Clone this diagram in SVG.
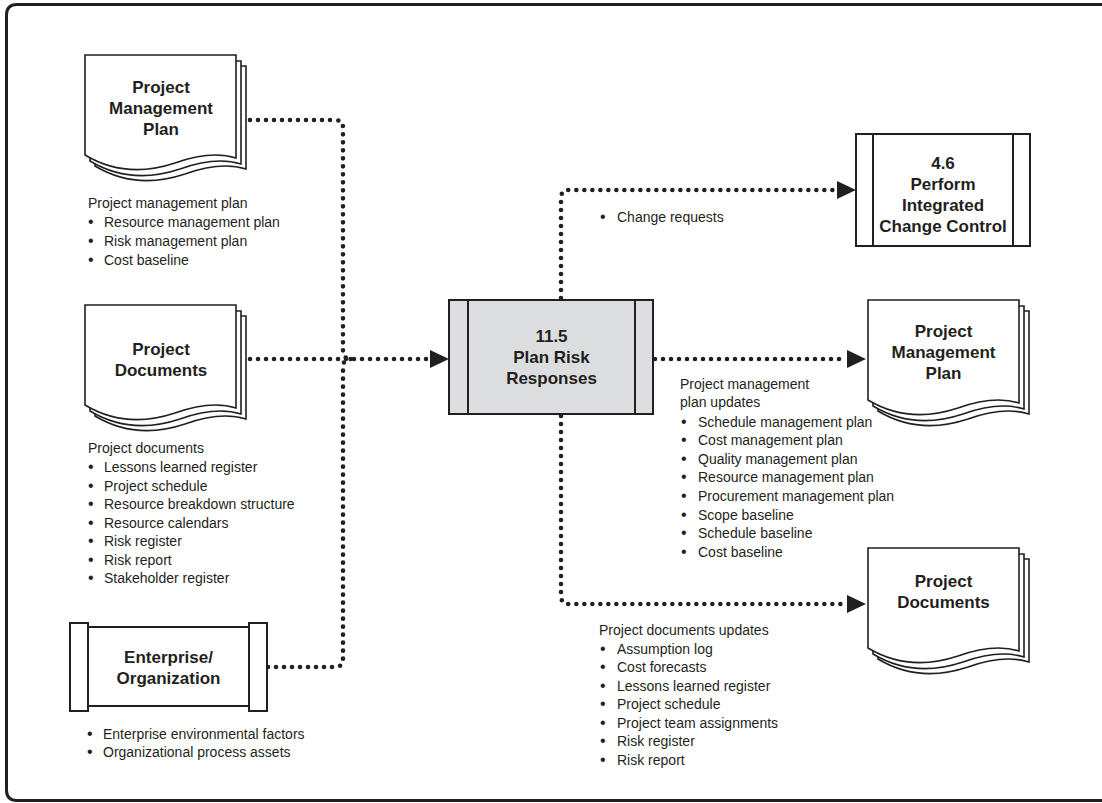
<svg xmlns="http://www.w3.org/2000/svg" width="1102" height="803" viewBox="0 0 1102 803">
<defs>
<style>
.frame{fill:none;stroke:#231f20;stroke-width:3}
.box{fill:#fff;stroke:#231f20;stroke-width:2}
.proc{fill:#dcdddf;stroke:#231f20;stroke-width:2}
.ln{stroke:#231f20;stroke-width:2}
.page{fill:#fff;stroke:#231f20;stroke-width:1.6}
.dot{fill:none;stroke:#231f20;stroke-width:4.6;stroke-linecap:round;stroke-dasharray:0 8}
.t{font-family:"Liberation Sans",Arial,sans-serif;font-size:14px;fill:#231f20}
.b{font-size:16px}
.h{font-family:"Liberation Sans",Arial,sans-serif;font-size:17px;font-weight:bold;fill:#231f20;text-anchor:middle}
</style>
<path id="pg" d="M0,0 H151 V103 C135,98 115,99 90,108 C60,118 30,118 0,100 Z"/>
<marker id="arr" markerUnits="userSpaceOnUse" markerWidth="20" markerHeight="20" refX="0" refY="9" orient="auto" viewBox="0 0 20 20">
<path d="M0,0 L19,9 L0,18 Z" fill="#231f20"/>
</marker>
</defs>
<rect width="1102" height="803" fill="#fff"/>
<path class="frame" d="M1102,4.5 H17 Q6.5,4.5 6.5,15 V790 Q6.5,800.5 17,800.5 H1102"/>

<g id="connectors">
<path class="dot" d="M250,120 H335 Q343,120 343,128 V351 Q343,359 351,359"/>
<path class="dot" d="M268,667 H335 Q343,667 343,659 V367 Q343,359 351,359"/>
<path class="dot" d="M250,359 H430" marker-end="url(#arr)"/>
<path class="dot" d="M655,359 H847" marker-end="url(#arr)"/>
<path class="dot" d="M561,298 V198 Q561,190 569,190 H837" marker-end="url(#arr)"/>
<path class="dot" d="M561,416 V596 Q561,604 569,604 H847" marker-end="url(#arr)"/>
</g>

<g id="pmp-in">
<use href="#pg" class="page" transform="translate(95,66)"/>
<use href="#pg" class="page" transform="translate(90,61)"/>
<use href="#pg" class="page" transform="translate(85,55)"/>
<text class="h" x="161" y="93">Project</text>
<text class="h" x="161" y="114">Management</text>
<text class="h" x="161" y="135">Plan</text>
<text class="t" x="88" y="208">Project management plan</text>
<text class="t"><tspan class="b" x="88" y="227">•</tspan><tspan x="104">Resource management plan</tspan></text>
<text class="t"><tspan class="b" x="88" y="246">•</tspan><tspan x="104">Risk management plan</tspan></text>
<text class="t"><tspan class="b" x="88" y="265">•</tspan><tspan x="104">Cost baseline</tspan></text>
</g>

<g id="docs-in">
<use href="#pg" class="page" transform="translate(95,316)"/>
<use href="#pg" class="page" transform="translate(90,311)"/>
<use href="#pg" class="page" transform="translate(85,305)"/>
<text class="h" x="161" y="355">Project</text>
<text class="h" x="161" y="376">Documents</text>
<text class="t" x="88" y="453">Project documents</text>
<text class="t"><tspan class="b" x="88" y="472">•</tspan><tspan x="104">Lessons learned register</tspan></text>
<text class="t"><tspan class="b" x="88" y="491">•</tspan><tspan x="104">Project schedule</tspan></text>
<text class="t"><tspan class="b" x="88" y="509">•</tspan><tspan x="104">Resource breakdown structure</tspan></text>
<text class="t"><tspan class="b" x="88" y="528">•</tspan><tspan x="104">Resource calendars</tspan></text>
<text class="t"><tspan class="b" x="88" y="546">•</tspan><tspan x="104">Risk register</tspan></text>
<text class="t"><tspan class="b" x="88" y="565">•</tspan><tspan x="104">Risk report</tspan></text>
<text class="t"><tspan class="b" x="88" y="583">•</tspan><tspan x="104">Stakeholder register</tspan></text>
</g>

<g id="enterprise">
<rect class="box" x="70" y="623" width="18" height="88"/>
<rect class="box" x="249" y="623" width="18" height="88"/>
<rect class="box" x="88" y="627" width="161" height="79"/>
<text class="h" x="168.5" y="663">Enterprise/</text>
<text class="h" x="168.5" y="684">Organization</text>
<text class="t"><tspan class="b" x="87" y="739">•</tspan><tspan x="103">Enterprise environmental factors</tspan></text>
<text class="t"><tspan class="b" x="87" y="757">•</tspan><tspan x="103">Organizational process assets</tspan></text>
</g>

<g id="process">
<rect class="proc" x="449" y="300" width="204" height="114"/>
<line class="ln" x1="468" y1="300" x2="468" y2="414"/>
<line class="ln" x1="635" y1="300" x2="635" y2="414"/>
<text class="h" x="551.5" y="342">11.5</text>
<text class="h" x="551.5" y="363">Plan Risk</text>
<text class="h" x="551.5" y="384">Responses</text>
</g>

<g id="change-control">
<rect class="box" x="856" y="134" width="174" height="112"/>
<line class="ln" x1="873" y1="134" x2="873" y2="246"/>
<line class="ln" x1="1013" y1="134" x2="1013" y2="246"/>
<text class="h" x="943" y="169">4.6</text>
<text class="h" x="943" y="190">Perform</text>
<text class="h" x="943" y="211">Integrated</text>
<text class="h" x="943" y="232">Change Control</text>
<text class="t"><tspan class="b" x="600" y="222">•</tspan><tspan x="617">Change requests</tspan></text>
</g>

<g id="pmp-out">
<use href="#pg" class="page" transform="translate(878,311)"/>
<use href="#pg" class="page" transform="translate(873,306)"/>
<use href="#pg" class="page" transform="translate(868,300)"/>
<text class="h" x="943.5" y="337">Project</text>
<text class="h" x="943.5" y="358">Management</text>
<text class="h" x="943.5" y="379">Plan</text>
<text class="t" x="680" y="389">Project management</text>
<text class="t" x="680" y="407">plan updates</text>
<text class="t"><tspan class="b" x="681" y="427">•</tspan><tspan x="698">Schedule management plan</tspan></text>
<text class="t"><tspan class="b" x="681" y="445">•</tspan><tspan x="698">Cost management plan</tspan></text>
<text class="t"><tspan class="b" x="681" y="464">•</tspan><tspan x="698">Quality management plan</tspan></text>
<text class="t"><tspan class="b" x="681" y="482">•</tspan><tspan x="698">Resource management plan</tspan></text>
<text class="t"><tspan class="b" x="681" y="501">•</tspan><tspan x="698">Procurement management plan</tspan></text>
<text class="t"><tspan class="b" x="681" y="520">•</tspan><tspan x="698">Scope baseline</tspan></text>
<text class="t"><tspan class="b" x="681" y="538">•</tspan><tspan x="698">Schedule baseline</tspan></text>
<text class="t"><tspan class="b" x="681" y="557">•</tspan><tspan x="698">Cost baseline</tspan></text>
</g>

<g id="docs-out">
<use href="#pg" class="page" transform="translate(878,559)"/>
<use href="#pg" class="page" transform="translate(873,554)"/>
<use href="#pg" class="page" transform="translate(868,548)"/>
<text class="h" x="943.5" y="587">Project</text>
<text class="h" x="943.5" y="608">Documents</text>
<text class="t" x="599" y="635">Project documents updates</text>
<text class="t"><tspan class="b" x="600" y="654">•</tspan><tspan x="617">Assumption log</tspan></text>
<text class="t"><tspan class="b" x="600" y="672">•</tspan><tspan x="617">Cost forecasts</tspan></text>
<text class="t"><tspan class="b" x="600" y="691">•</tspan><tspan x="617">Lessons learned register</tspan></text>
<text class="t"><tspan class="b" x="600" y="709">•</tspan><tspan x="617">Project schedule</tspan></text>
<text class="t"><tspan class="b" x="600" y="728">•</tspan><tspan x="617">Project team assignments</tspan></text>
<text class="t"><tspan class="b" x="600" y="746">•</tspan><tspan x="617">Risk register</tspan></text>
<text class="t"><tspan class="b" x="600" y="765">•</tspan><tspan x="617">Risk report</tspan></text>
</g>
</svg>
